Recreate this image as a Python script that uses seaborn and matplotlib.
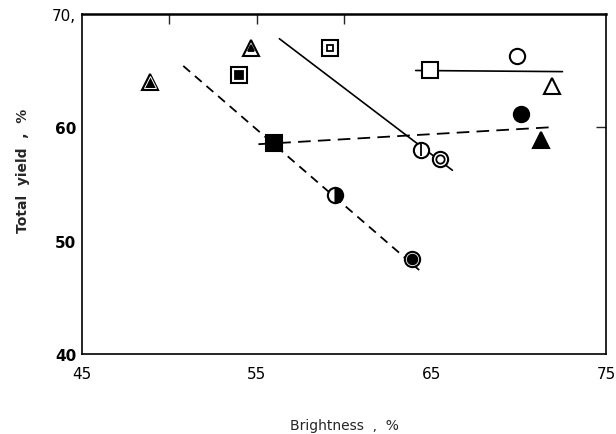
import matplotlib
matplotlib.use("Agg")
import matplotlib.pyplot as plt
import seaborn as sns

# Measured points: brightness (%) vs total yield (%)
point_kind = ["tri_ring", "tri_dot", "sq_dot", "sq_sq", "sq_fill", "circ_half", "circ_dot",
              "circ_bar", "circ_ring", "sq_open", "circ_open", "tri_open", "circ_fill", "tri_fill"]
brightness = [48.9, 54.7, 54.0, 59.2, 56.0, 59.5, 63.9, 64.4, 65.5, 64.9, 69.9, 71.9, 70.1, 71.3]
total_yield = [64.0, 67.0, 64.6, 67.0, 58.6, 54.0, 48.4, 58.0, 57.2, 65.0, 66.3, 63.6, 61.2, 58.9]

# Fitted lines (end points)
dash_steep_x = [50.8, 64.3]
dash_steep_y = [65.4, 47.4]
dash_flat_x = [55.1, 71.9]
dash_flat_y = [58.5, 60.0]
solid_steep_x = [56.3, 66.2]
solid_steep_y = [67.8, 56.2]
solid_flat_x = [64.1, 72.5]
solid_flat_y = [65.0, 64.9]

# marker style per kind: outer marker, face, fillstyle, inner marker, inner face, inner size
styles = {
    "tri_ring": ("^", "black", "full", "^", "black", 9),
    "tri_fill": ("^", "black", "full", None, None, 0),
    "tri_dot": ("^", "white", "full", "^", "black", 5),
    "sq_dot": ("s", "white", "full", "s", "black", 6),
    "sq_sq": ("s", "white", "full", "s", "white", 5),
    "sq_fill": ("s", "black", "full", None, None, 0),
    "circ_half": ("o", "black", "right", None, None, 0),
    "circ_dot": ("o", "white", "full", "o", "black", 7),
    "circ_bar": ("o", "white", "full", "|", "black", 9),
    "circ_ring": ("o", "white", "full", "o", "white", 6),
    "sq_open": ("s", "white", "full", None, None, 0),
    "circ_open": ("o", "white", "full", None, None, 0),
    "tri_open": ("^", "white", "full", None, None, 0),
    "circ_fill": ("o", "black", "full", None, None, 0),
}

sns.set_style("white")
plt.rcParams["font.family"] = ["DejaVu Sans"]

fig = plt.figure(figsize=(6.16, 4.35), dpi=100)
ax = fig.add_axes([0.133, 0.184, 0.851, 0.782])

sns.lineplot(x=dash_steep_x, y=dash_steep_y, ax=ax, color="black", lw=1.3, linestyle=(0, (5, 3.5)))
sns.lineplot(x=dash_flat_x, y=dash_flat_y, ax=ax, color="black", lw=1.3, linestyle=(0, (7, 4)))
sns.lineplot(x=solid_steep_x, y=solid_steep_y, ax=ax, color="black", lw=1.2)
sns.lineplot(x=solid_flat_x, y=solid_flat_y, ax=ax, color="black", lw=1.2)

for kind, bx, ty in zip(point_kind, brightness, total_yield):
    mk, face, fill, inner, inner_face, inner_size = styles[kind]
    size = 12 if mk == "^" else 11
    ax.plot(bx, ty, marker=mk, markersize=size, markerfacecolor=face, fillstyle=fill,
            markerfacecoloralt="white", markeredgecolor="black", markeredgewidth=1.5,
            linestyle="none", zorder=3)
    if inner is not None:
        edge = "white" if kind == "tri_ring" else "black"
        ax.plot(bx, ty, marker=inner, markersize=inner_size, markerfacecolor=inner_face,
                markeredgecolor=edge, markeredgewidth=0.7 if kind == "tri_ring" else 1.3,
                linestyle="none", zorder=4)

ax.set_xlim(45, 75)
ax.set_ylim(40, 70)

ax.set_xticks([45, 55, 65, 75])
ax.set_xticklabels(["45", "55", "65", "75"], fontsize=11)
ax.set_xticks([60], minor=True)
ax.set_yticks([40, 50, 60, 70])
ax.set_yticklabels(["40", "50", "60", "70,"], fontsize=11)
for lab in ax.get_yticklabels()[:3]:
    lab.set_fontweight("bold")
ax.tick_params(axis="both", which="major", direction="in", length=6, width=1, pad=4, colors="black")
ax.tick_params(axis="x", which="major", pad=9)
ax.tick_params(axis="x", which="minor", direction="in", length=4, width=1)

top = ax.secondary_xaxis("top")
top.set_xticks([50, 55, 60])
top.set_xticklabels([])
top.tick_params(direction="in", length=7, width=1)
right = ax.secondary_yaxis("right")
right.set_yticks([60])
right.set_yticklabels([])
right.tick_params(direction="in", length=7, width=1)

for s in ["left", "bottom", "right"]:
    ax.spines[s].set_linewidth(1.2)
    ax.spines[s].set_color("black")
ax.spines["top"].set_linewidth(1.8)
ax.spines["top"].set_color("black")
top.spines["top"].set_visible(False)
right.spines["right"].set_visible(False)

ax.set_xlabel("Brightness  ,  %", fontsize=10, labelpad=26)
ax.set_ylabel("Total  yield  ,  %", fontsize=10, fontweight="bold")
ax.yaxis.set_label_coords(-0.1, 0.54)

fig.savefig("out.png", dpi=100)
